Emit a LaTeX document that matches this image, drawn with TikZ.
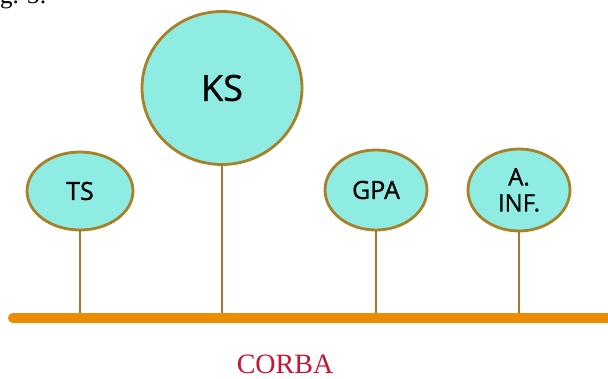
\documentclass[tikz,border=0pt]{standalone}
\usepackage{fontspec}
\setmainfont{Liberation Serif}
\newfontfamily\labelfont[FakeBold=0.8]{Open Sans}
\usetikzlibrary{shapes.geometric}
\definecolor{aqua}{RGB}{142,236,226}
\definecolor{goldrim}{RGB}{168,128,40}
\definecolor{stemcol}{RGB}{168,118,48}
\definecolor{barcol}{RGB}{236,140,0}
\definecolor{corbared}{RGB}{200,20,50}
\tikzset{
  bubble/.style={ellipse, draw=goldrim, line width=2.8pt, fill=aqua, inner sep=0pt,
    font=\labelfont\fontsize{25}{26}\selectfont, align=center},
  stem/.style={draw=stemcol, line width=2.8pt},
  busbar/.style={draw=barcol, line width=10pt, line cap=round},
}
\begin{document}
\begin{tikzpicture}[x=1pt,y=-1pt]
\useasboundingbox (0,0) rectangle (608,379);
\node[anchor=base west, font=\fontsize{25}{26}\selectfont, inner sep=0pt] (fig) at (-21,4) {Fig. 3:};
\coordinate (barL) at (13,318);
\coordinate (barR) at (620,318);
\node[bubble, minimum width=106pt, minimum height=78pt] (ts) at (80,191) {TS};
\node[bubble, minimum width=160pt, minimum height=153pt, font=\labelfont\fontsize{36}{38}\selectfont] (ks) at (222,88) {KS};
\node[bubble, minimum width=102pt, minimum height=80pt] (gpa) at (376,190) {GPA};
\node[bubble, minimum width=102pt, minimum height=82pt, font=\labelfont\fontsize{24}{26}\selectfont] (ainf) at (519,190) {A.\\INF.};
\draw[stem] (ts.south) -- (ts.south |- barL);
\draw[stem] (ks.south) -- (ks.south |- barL);
\draw[stem] (gpa.south) -- (gpa.south |- barL);
\draw[stem] (ainf.south) -- (ainf.south |- barL);
\draw[busbar] (barL) -- (barR);
\node[text=corbared, font=\fontsize{28}{30}\selectfont, inner sep=0pt] (corba) at (285,364) {CORBA};
\end{tikzpicture}
\end{document}
